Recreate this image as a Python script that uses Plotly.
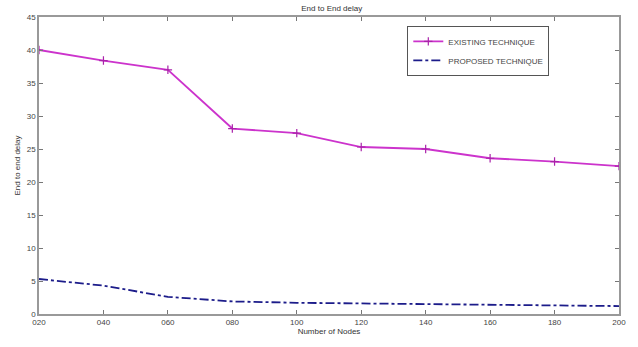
import plotly.graph_objects as go

nodes = [20, 40, 60, 80, 100, 120, 140, 160, 180, 200]
x_tick_labels = ["020", "040", "060", "080", "100", "120", "140", "160", "180", "200"]
existing = [40.0, 38.4, 37.0, 28.1, 27.4, 25.3, 25.0, 23.6, 23.1, 22.4]
proposed = [5.3, 4.3, 2.6, 1.9, 1.7, 1.6, 1.55, 1.45, 1.3, 1.2]
y_ticks = [0, 5, 10, 15, 20, 25, 30, 35, 40, 45]

fig = go.Figure()
fig.add_trace(go.Scatter(
    x=nodes, y=existing, name="EXISTING TECHNIQUE", mode="lines+markers",
    line=dict(color="#cc33cc", width=1.8),
    marker=dict(symbol="cross-thin", size=6, line=dict(color="#aa22aa", width=1.2)),
))
fig.add_trace(go.Scatter(
    x=nodes, y=proposed, name="PROPOSED TECHNIQUE", mode="lines",
    line=dict(color="#1c1c8a", width=1.8, dash="dashdot"),
))

axis_common = dict(
    showgrid=False, zeroline=False, showline=True, linecolor="#999999", linewidth=1.5,
    mirror="ticks", ticks="inside", ticklen=4, tickcolor="#777777",
    tickfont=dict(family="Liberation Sans, Arial", size=8, color="#444444"),
)
fig.update_xaxes(
    range=[20, 200], tickvals=nodes, ticktext=x_tick_labels,
    title=dict(text="Number of Nodes", font=dict(family="Liberation Sans, Arial", size=8, color="#333333"), standoff=2),
    **axis_common,
)
fig.update_yaxes(
    range=[0, 45], tickvals=y_ticks,
    title=dict(text="End to end delay", font=dict(family="Liberation Sans, Arial", size=8, color="#333333"), standoff=5),
    **axis_common,
)
fig.update_layout(
    width=638, height=347,
    margin=dict(l=39, r=15, t=17, b=23),
    paper_bgcolor="white", plot_bgcolor="white",
    title=dict(text="End to End delay", x=0.52, xanchor="center", y=0.985, yanchor="top",
               font=dict(family="Liberation Sans, Arial", size=8, color="#333333")),
    legend=dict(x=0.635, y=0.97, xanchor="left", yanchor="top",
                bgcolor="white", bordercolor="#555555", borderwidth=1,
                font=dict(family="Liberation Sans, Arial", size=8, color="#444444"),
                tracegroupgap=0, itemwidth=30),
    showlegend=True,
)
fig.write_html("out.html")
